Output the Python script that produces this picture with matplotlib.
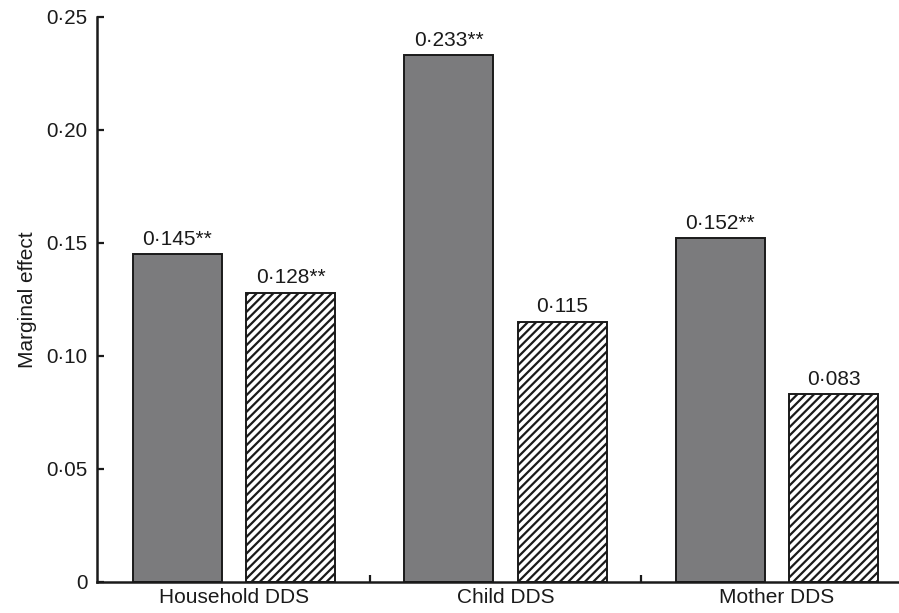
import matplotlib
matplotlib.use("Agg")
import matplotlib.pyplot as plt
from matplotlib.ticker import FixedLocator
import numpy as np

categories = ["Household DDS", "Child DDS", "Mother DDS"]
series_a = [0.145, 0.233, 0.152]
series_b = [0.128, 0.115, 0.083]
labels_a = ["0·145**", "0·233**", "0·152**"]
labels_b = ["0·128**", "0·115", "0·083"]
yticks = [0, 0.05, 0.10, 0.15, 0.20, 0.25]
yticklabels = ["0", "0·05", "0·10", "0·15", "0·20", "0·25"]

plt.rcParams['font.family'] = ['Liberation Sans', 'DejaVu Sans']
plt.rcParams['hatch.linewidth'] = 1.6
plt.rcParams['hatch.color'] = '#1a1a1a'

fig = plt.figure(figsize=(8.99, 6.13), dpi=100)
ax = fig.add_axes([0.1076, 0.0506, 0.8924, 0.922])

x = np.arange(len(categories))
w = 0.328
off = 0.209
ba = ax.bar(x - off, series_a, w, color="#7b7b7d", edgecolor="#1a1a1a", linewidth=1.4)
bb = ax.bar(x + off, series_b, w, color="white", edgecolor="#1a1a1a", linewidth=1.4, hatch="////")

for bars, labs in ((ba, labels_a), (bb, labels_b)):
    for rect, lab in zip(bars, labs):
        ax.annotate(lab, (rect.get_x() + rect.get_width() / 2, rect.get_height()),
                    xytext=(0, 4.0), textcoords="offset points",
                    ha="center", va="bottom", fontsize=15, color="#1a1a1a")

ax.set_xlim(-0.505, 2.449)
ax.set_ylim(0, 0.25)
ax.set_yticks(yticks)
ax.set_yticklabels(yticklabels, fontsize=14.8, color="#1a1a1a")
ax.set_xticks(x)
ax.set_xticklabels(categories, fontsize=15, color="#1a1a1a")
ax.xaxis.set_minor_locator(FixedLocator([0.5, 1.5]))
ax.tick_params(axis="x", which="major", length=0, pad=4.5)
ax.tick_params(axis="x", which="minor", direction="in", length=5, width=1.6, color="#1a1a1a")
ax.tick_params(axis="y", direction="in", length=5, width=1.6, pad=6.5, color="#1a1a1a")
ax.set_ylabel("Marginal effect", fontsize=15, labelpad=7, color="#1a1a1a")
for s in ["top", "right"]:
    ax.spines[s].set_visible(False)
for s in ["left", "bottom"]:
    ax.spines[s].set_linewidth(1.8)
    ax.spines[s].set_color("#1a1a1a")

fig.savefig("out.png", dpi=100)
